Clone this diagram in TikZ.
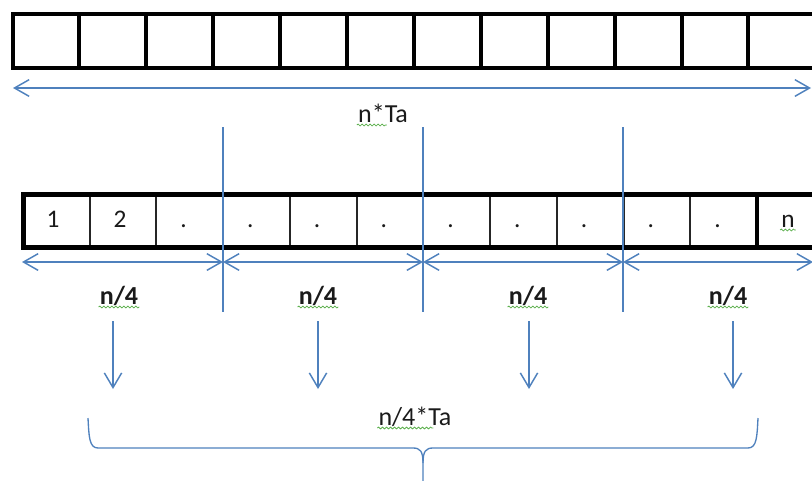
\documentclass[tikz,border=0pt]{standalone}
\usepackage{fontspec}
\setmainfont{Carlito}
\usetikzlibrary{arrows.meta,decorations.pathmorphing,calc}
\definecolor{offblue}{HTML}{4F81BD}
\definecolor{spellgreen}{HTML}{5DB04E}
\definecolor{txt}{HTML}{1A1A1A}
\tikzset{
  thickbox/.style={draw=black,line width=3pt},
  thindiv/.style={draw=black!85,line width=1.5pt},
  blueline/.style={draw=offblue,line width=1.1pt},
  dimarrow/.style={blueline,{Straight Barb[length=11pt,width=12.5pt]}-{Straight Barb[length=11pt,width=12.5pt]}},
  downarrow/.style={blueline,-{Straight Barb[length=11pt,width=13pt]}},
  celltext/.style={inner sep=0pt,anchor=base,text=txt,font=\fontsize{19}{22}\selectfont},
  labeltext/.style={inner sep=0pt,anchor=base,text=txt,font=\fontsize{19.5}{23}\selectfont},
  boldlabel/.style={labeltext,font=\fontsize{19.5}{23}\selectfont\bfseries},
  squiggle/.style={draw=spellgreen,line width=0.6pt,decorate,decoration={snake,amplitude=0.7pt,segment length=3pt}}
}
\begin{document}
\begin{tikzpicture}[x=0.75pt,y=-0.75pt]
\useasboundingbox (0,0) rectangle (812,480);
% top array
\draw[thickbox] (12.5,13.5) rectangle (815,67.5);
\foreach \k in {1,...,11}{
  \draw[thickbox] ({12.5+66.9*\k},13.5) -- ({12.5+66.9*\k},67.5);
}
% top dimension arrow
\coordinate (tl) at (13,88);
\coordinate (tr) at (811,88);
\draw[dimarrow] (tl) -- (tr);
\node[labeltext] (nTa) at (383,122) {n*Ta};
\draw[squiggle] ($(nTa.base west)+(-1,3)$) -- ++(30,0);
% partition lines
\foreach \x/\n in {223/p1,423/p2,623/p3}{
  \coordinate (\n top) at (\x,127);
  \coordinate (\n bot) at (\x,312);
}
% second array
\draw[thindiv] \foreach \k in {1,2,4,5,6,7,8,9,10} {({22.75+66.75*\k},194.5) -- ({22.75+66.75*\k},247.5)};
\draw[thindiv] (223,194.5) -- (223,247.5);
\draw[thindiv] (423,194.5) -- (423,247.5);
\draw[thindiv] (623,194.5) -- (623,247.5);
\draw[black,line width=2.4pt] (757,194.5) -- (757,247.5);
\draw[black,line width=3.75pt] (830,194.5) -- (23,194.5) -- (23,247.5) -- (830,247.5);
% cell texts
\node[celltext] (c1) at (53,227) {1};
\node[celltext] (c2) at (120,227) {2};
\foreach \k in {2,...,10}{
  \node[celltext] (c\k d) at ({22.75+66.75*(\k+0.5)-6},227) {.};
}
\node[celltext] (cn) at (788,227) {n};
\draw[squiggle] ($(cn.base west)+(-1,3)$) -- ($(cn.base east)+(1,3)$);
% partition vertical lines
\draw[blueline] (p1top) -- (p1bot);
\draw[blueline] (p2top) -- (p2bot);
\draw[blueline] (p3top) -- (p3bot);
% dimension arrows for quarters
\coordinate (q0) at (22,262);
\coordinate (q1) at (223,262);
\coordinate (q2) at (423,262);
\coordinate (q3) at (623,262);
\coordinate (q4) at (813,262);
\draw[dimarrow] (q0) -- (q1);
\draw[dimarrow] (q1) -- (q2);
\draw[dimarrow] (q2) -- (q3);
\draw[dimarrow] (q3) -- (q4);
% labels and down arrows
\foreach \lx/\ax/\i in {119/113/1,318/318/2,528/529/3,728/733/4}{
  \node[boldlabel] (l\i) at (\lx,304) {n/4};
  \draw[squiggle] ($(l\i.base west)+(-1,3)$) -- ($(l\i.base east)+(1,3)$);
  \coordinate (a\i top) at (\ax,321);
  \coordinate (a\i bot) at (\ax,389);
  \draw[downarrow] (a\i top) -- (a\i bot);
}
% brace
\coordinate (bl) at (88,418);
\coordinate (br) at (758,418);
\coordinate (bc) at (423,481);
\draw[blueline,line width=1pt] (bl) .. controls (89,436) and (89,448) .. (98,448) -- (413,448)
  .. controls (420,448) and (423,451) .. (423,463) -- (bc);
\draw[blueline,line width=1pt] (423,463) .. controls (423,451) and (426,448) .. (433,448) -- (748,448)
  .. controls (757,448) and (757,436) .. (br);
\node[labeltext] (nqTa) at (415,425) {n/4*Ta};
\draw[squiggle] ($(nqTa.base west)+(-1,3)$) -- ++(56,0);
\end{tikzpicture}
\end{document}
